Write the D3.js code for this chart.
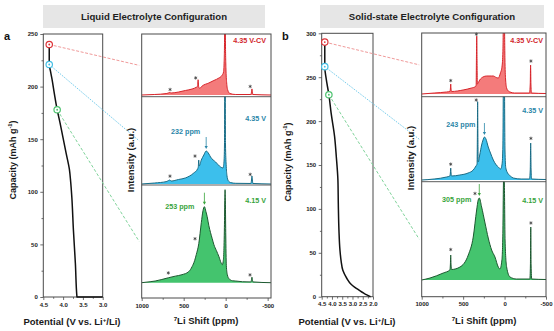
<!DOCTYPE html>
<html>
<head>
<meta charset="utf-8">
<script src="https://cdn.jsdelivr.net/npm/d3@7"></script>
<style>
  html, body { margin: 0; padding: 0; background: #fff; }
  svg { display: block; font-family: "Liberation Sans", Arial, sans-serif; }
</style>
</head>
<body>
<svg id="fig" width="554" height="331"></svg>
<script>
// ---------- charge curves: [potential (V), capacity (mAh/g)] ----------
const liquidChargeCurve = [
  [3.0, 0], [3.65, 0], [3.69, 32], [3.74, 64], [3.78, 95], [3.81, 110], [3.84, 121],
  [3.92, 136], [4.0, 151], [4.08, 166], [4.15, 178], [4.22, 193], [4.28, 207],
  [4.32, 215], [4.35, 221], [4.35, 240]
];
const solidChargeCurve = [
  [2.12, 0], [2.3, 2], [2.45, 4], [2.68, 7.5], [2.9, 11], [3.08, 14.5], [3.28, 21],
  [3.47, 30], [3.55, 40], [3.61, 53], [3.66, 76], [3.69, 105], [3.71, 133], [3.79, 160],
  [3.87, 182], [4.04, 209], [4.15, 230], [4.28, 248], [4.35, 262], [4.35, 290]
];

// sampling points on each curve (4.35 V-CV, 4.35 V, 4.15 V)
const liquidMarkers = [[4.35, 240], [4.35, 221], [4.15, 178]];
const solidMarkers  = [[4.35, 290], [4.35, 262], [4.15, 230]];

// axis ticks
const liquidPotentialTicks = [4.5, 4.0, 3.5, 3.0];
const liquidPotentialMinor = [4.25, 3.75, 3.25];
const liquidCapacityTicks = [0, 50, 100, 150, 200, 250];
const liquidCapacityMinor = [25, 75, 125, 175, 225];
const solidPotentialTicks = [4.5, 4.0, 3.5, 3.0, 2.5, 2.0];
const solidPotentialMinor = [4.25, 3.75, 3.25, 2.75, 2.25];
const solidCapacityTicks = [0, 50, 100, 150, 200, 250, 300];
const solidCapacityMinor = [25, 75, 125, 175, 225, 275];
const shiftTicks = [1000, 500, 0, -500];
const shiftMinor = [750, 250, -250];

// ---------- 7Li NMR spectra: [shift (ppm), intensity (a.u., 100 = trace height)] ----------
const liquidCV = [
  [1000, 0], [850, 0.8], [700, 2.5], [665, 4], [650, 3.3], [560, 4.9], [480, 7.4], [400, 9.8],
  [345, 13], [334, 14], [328, 25], [322, 14], [310, 11], [280, 14.8], [200, 19.7], [140, 23.8],
  [80, 27.9], [45, 32], [25, 37.7], [18, 55], [13, 95], [8, 220], [3, 95], [-3, 45], [-12, 20],
  [-25, 8], [-50, 2.5], [-120, 0.8], [-300, 0.8], [-308, 5], [-313, 10], [-318, 5], [-325, 0.8], [-540, 0]
];
const liquid435 = [
  [1000, 0], [850, 1.1], [700, 2.9], [665, 4.6], [650, 3.4], [560, 5.2], [480, 6.9], [380, 12.6],
  [335, 17.2], [326, 19.5], [321, 27.5], [316, 20.6], [290, 27.5], [260, 33.2], [232, 37.8],
  [200, 34.4], [180, 30.9], [120, 25.2], [60, 19.5], [32, 18.3], [20, 25.2], [14, 45.8], [8, 229],
  [2, 45.8], [-6, 22], [-15, 10], [-30, 4], [-60, 1.6], [-120, 0.8], [-300, 0.6], [-308, 4.6],
  [-313, 9.2], [-318, 4.6], [-325, 0.6], [-540, 0]
];
const liquid415 = [
  [1000, 0], [900, 1], [840, 1.7], [680, 5.1], [600, 6.7], [520, 8.2], [440, 11.3], [400, 16.4],
  [370, 22.5], [350, 28.7], [320, 40], [290, 61.4], [270, 73.7], [253, 77.8], [235, 72.7],
  [220, 67.6], [200, 58.3], [180, 51.2], [160, 45], [140, 38.9], [110, 32.8], [80, 26.6],
  [55, 20.5], [40, 18.4], [30, 21.5], [22, 30.7], [15, 56.3], [10, 87], [7, 95.2], [4, 87],
  [-1, 51.2], [-8, 17.4], [-20, 8.2], [-40, 4.1], [-80, 2], [-120, 1.7], [-200, 1], [-300, 0.8],
  [-308, 3.1], [-313, 5.6], [-318, 3.1], [-325, 0.8], [-540, 0]
];
const solidCV = [
  [1000, 0], [850, 1.6], [700, 3.3], [660, 4.1], [654, 8], [650, 16.4], [646, 8], [640, 4.1],
  [500, 6.6], [400, 9.8], [350, 12.3], [343, 14.8], [339, 65], [336, 95], [333, 65], [328, 16.4],
  [300, 23], [260, 27.9], [216, 29.5], [160, 29.5], [136, 29.5], [100, 27], [76, 26.2], [50, 34.4],
  [30, 45.9], [20, 70], [14, 150], [8, 330], [2, 150], [-4, 60], [-12, 24.6], [-25, 9.8],
  [-45, 4.9], [-65, 3.3], [-120, 1.6], [-300, 1.6], [-310, 16.4], [-314, 47.5], [-318, 16.4],
  [-325, 1.6], [-500, 0.8]
];
const solid435 = [
  [1000, 0], [850, 1.2], [700, 3.6], [660, 4.8], [654, 8.4], [650, 14.4], [646, 8.4], [640, 4.8],
  [540, 6], [440, 8.4], [378, 12], [345, 16.8], [332, 19.2], [328, 54], [325, 94], [322, 54],
  [318, 21.6], [300, 30], [277, 42], [260, 48], [243, 51.6], [225, 49.2], [197, 39.6], [170, 32.4],
  [136, 24], [100, 18], [76, 15.6], [47, 13.2], [30, 19.2], [20, 42], [14, 144], [8, 264],
  [2, 144], [-5, 36], [-15, 14.4], [-37, 8.4], [-70, 4.8], [-105, 2.4], [-200, 1.2], [-300, 1.2],
  [-310, 12], [-315, 44.4], [-320, 12], [-327, 1.2], [-500, 0.6]
];
const solid415 = [
  [1000, 0], [900, 2], [740, 7.1], [660, 10.2], [654, 15.3], [650, 25.4], [646, 15.3], [640, 10.7],
  [538, 13.2], [438, 25.4], [378, 43.7], [337, 71.2], [318, 81.4], [305, 83.4], [277, 74.3],
  [236, 58], [197, 42.7], [156, 30.5], [116, 23.4], [76, 13.2], [56, 11.2], [32, 20.3], [20, 50.9],
  [14, 96.6], [8, 110], [2, 96.6], [-6, 40.7], [-25, 13.2], [-65, 3.1], [-145, 1], [-305, 1],
  [-312, 15.3], [-316, 53.9], [-320, 15.3], [-328, 1], [-500, 0.5]
];

// spinning sidebands marked with asterisks: [shift (ppm), intensity (a.u.)]
const liquidCVStars  = [[662, 9], [357, 28], [-292, 14]];
const liquid435Stars = [[663, 9], [365, 32], [-292, 11]];
const liquid415Stars = [[683, 10], [365, 45], [-290, 8]];
const solidCVStars   = [[650, 22], [340, 98], [-318, 54]];
const solid435Stars  = [[650, 19], [342, 96], [-318, 50]];
const solid415Stars  = [[650, 31], [357, 88], [-318, 58]];

// labelled peak maxima (ppm) on the 4.35 V and 4.15 V traces
const liquidPeaks = [232, 253];
const solidPeaks  = [243, 305];

const rowLabels = ['4.35 V-CV', '4.35 V', '4.15 V'];

// ---------- styling & layout ----------
const rowColors = [
  { fill: '#f47b7b', stroke: '#d6252b', text: '#d2262c', link: '#f09a9a', ring: '#dd3338' },
  { fill: '#3cbfec', stroke: '#1a6b84', text: '#2a86a8', link: '#78cdec', ring: '#45bfe4' },
  { fill: '#44c46e', stroke: '#1d5830', text: '#38a43b', link: '#7fd39a', ring: '#4cc26e' }
];
const linkDash = ['3,1.6', '1.6,1.2', '3,2'];

const panels = [
  {
    letter: 'a', header: 'Liquid Electrolyte Configuration',
    curve: liquidChargeCurve, markers: liquidMarkers,
    potTicks: liquidPotentialTicks, potMinor: liquidPotentialMinor, potDomain: [4.5, 3.0],
    capTicks: liquidCapacityTicks, capMinor: liquidCapacityMinor, capDomain: [0, 250],
    spectra: [liquidCV, liquid435, liquid415],
    stars: [liquidCVStars, liquid435Stars, liquid415Stars],
    peaks: liquidPeaks, shiftDomain: [1000, -540],
    box: { x: 43, y: 5, w: 222, h: 23 }, letterPos: [4, 40],
    cap: { x0: 43.3, x1: 102.7, y0: 34, y1: 297 },
    nmr: { x0: 141.7, x1: 271, y0: 34, y1: 298 },
    rows: [ { top: 34, bottom: 96.7, base: 95 }, { top: 96.7, bottom: 185, base: 184 }, { top: 185, bottom: 298, base: 282.7 } ],
    capTitle: [13, 160], potTitle: [72, 325], intTitle: [130, 160], ppmTitle: [206, 324],
    labelRight: 266, labelDy: [6, 21.3, 15],
    peakLabel: [ { dx: -6, dy: -6 }, { dx: -10, dy: 13.7 } ]
  },
  {
    letter: 'b', header: 'Solid-state Electrolyte Configuration',
    curve: solidChargeCurve, markers: solidMarkers,
    potTicks: solidPotentialTicks, potMinor: solidPotentialMinor, potDomain: [4.5, 2.0],
    capTicks: solidCapacityTicks, capMinor: solidCapacityMinor, capDomain: [0, 300],
    spectra: [solidCV, solid435, solid415],
    stars: [solidCVStars, solid435Stars, solid415Stars],
    peaks: solidPeaks, shiftDomain: [1000, -500],
    box: { x: 320, y: 5, w: 224, h: 23 }, letterPos: [282, 40],
    cap: { x0: 321.7, x1: 373, y0: 33.3, y1: 296.7 },
    nmr: { x0: 421.7, x1: 546, y0: 33, y1: 296.7 },
    rows: [ { top: 33, bottom: 96.7, base: 94 }, { top: 96.7, bottom: 181.7, base: 180 }, { top: 181.7, bottom: 296.7, base: 280 } ],
    capTitle: [288, 162], potTitle: [347, 325], intTitle: [410, 158], ppmTitle: [484, 324],
    labelRight: 543, labelDy: [7.7, 13.3, 19],
    peakLabel: [ { dx: -9, dy: 1.6 }, { dx: -8, dy: 15.7 } ]
  }
];

const FONT = '"Liberation Sans", Arial, sans-serif';
const AXIS_COLOR = '#4a4a4a';
const svg = d3.select('#fig');
const defs = svg.append('defs');

function styleAxis(g, size) {
  g.attr('font-family', FONT).attr('font-size', size).attr('font-weight', 'bold');
  g.select('.domain').remove();
  g.selectAll('.tick line').attr('stroke', AXIS_COLOR).attr('stroke-width', 0.8);
  g.selectAll('.tick text').attr('fill', '#222');
}

function richText(sel, parts) {
  parts.forEach(([t, sup]) => {
    const ts = sel.append('tspan').text(t);
    if (sup) ts.attr('font-size', '0.65em').attr('baseline-shift', 'super');
  });
}

function interp(data, ppm) {
  for (let i = 0; i < data.length - 1; i++) {
    const [a, va] = data[i], [b, vb] = data[i + 1];
    if (ppm <= a && ppm >= b) return va + (vb - va) * (a - ppm) / (a - b);
  }
  return 0;
}

function asterisk(g, cx, cy) {
  const r = 1.7;
  const p = d3.path();
  [90, 30, -30].forEach(deg => {
    const a = deg * Math.PI / 180;
    p.moveTo(cx - r * Math.cos(a), cy - r * Math.sin(a));
    p.lineTo(cx + r * Math.cos(a), cy + r * Math.sin(a));
  });
  g.append('path').attr('d', p.toString()).attr('stroke', '#333').attr('stroke-width', 0.7).attr('fill', 'none');
}

panels.forEach((P) => {
  const root = svg.append('g');

  // header box
  root.append('rect').attr('x', P.box.x).attr('y', P.box.y).attr('width', P.box.w).attr('height', P.box.h)
    .attr('fill', '#e6e6e6');
  root.append('text').attr('x', P.box.x + P.box.w / 2).attr('y', P.box.y + P.box.h / 2 + 3.4)
    .attr('text-anchor', 'middle').attr('font-size', 9.6).attr('font-weight', 'bold').attr('fill', '#1e1e1e')
    .text(P.header);
  root.append('text').attr('x', P.letterPos[0]).attr('y', P.letterPos[1])
    .attr('font-size', 11).attr('font-weight', 'bold').attr('fill', '#111').text(P.letter);

  // ---- capacity vs potential ----
  const xV = d3.scaleLinear().domain(P.potDomain).range([P.cap.x0, P.cap.x1]);
  const yC = d3.scaleLinear().domain(P.capDomain).range([P.cap.y1, P.cap.y0]);

  const gxMinor = root.append('g').attr('transform', `translate(0,${P.cap.y1})`)
    .call(d3.axisBottom(xV).tickValues(P.potMinor).tickSize(1.8).tickFormat(''));
  styleAxis(gxMinor, 6);
  const gx = root.append('g').attr('transform', `translate(0,${P.cap.y1})`)
    .call(d3.axisBottom(xV).tickValues(P.potTicks).tickSize(3).tickPadding(2.5).tickFormat(d3.format('.1f')));
  styleAxis(gx, 6);
  const gyMinor = root.append('g').attr('transform', `translate(${P.cap.x0},0)`)
    .call(d3.axisLeft(yC).tickValues(P.capMinor).tickSize(1.8).tickFormat(''));
  styleAxis(gyMinor, 6);
  const gy = root.append('g').attr('transform', `translate(${P.cap.x0},0)`)
    .call(d3.axisLeft(yC).tickValues(P.capTicks).tickSize(3).tickPadding(2.5));
  styleAxis(gy, 6);

  root.append('rect').attr('x', P.cap.x0).attr('y', P.cap.y0)
    .attr('width', P.cap.x1 - P.cap.x0).attr('height', P.cap.y1 - P.cap.y0)
    .attr('fill', 'none').attr('stroke', AXIS_COLOR).attr('stroke-width', 1);

  root.append('path').datum(P.curve)
    .attr('d', d3.line().x(d => xV(d[0])).y(d => yC(d[1])).curve(d3.curveMonotoneY))
    .attr('fill', 'none').attr('stroke', '#111').attr('stroke-width', 1.5).attr('stroke-linejoin', 'round');

  // ---- NMR stack ----
  const xS = d3.scaleLinear().domain(P.shiftDomain).range([P.nmr.x0, P.nmr.x1]);

  // connecting lines from sampling points to their spectra
  P.markers.forEach((m, i) => {
    const row = P.rows[i];
    const ymid = (row.top + Math.min(row.bottom, P.nmr.y1)) / 2;
    root.append('line')
      .attr('x1', xV(m[0])).attr('y1', yC(m[1]))
      .attr('x2', P.nmr.x0 - 2.5).attr('y2', ymid)
      .attr('stroke', rowColors[i].link).attr('stroke-width', 1).attr('stroke-dasharray', linkDash[i]);
  });
  P.markers.forEach((m, i) => {
    const c = rowColors[i];
    root.append('circle').attr('cx', xV(m[0])).attr('cy', yC(m[1])).attr('r', 3.2)
      .attr('fill', '#fff').attr('stroke', c.ring).attr('stroke-width', 1.2);
    root.append('circle').attr('cx', xV(m[0])).attr('cy', yC(m[1])).attr('r', 0.9).attr('fill', c.ring);
  });

  P.spectra.forEach((data, i) => {
    const row = P.rows[i];
    const c = rowColors[i];
    const yI = d3.scaleLinear().domain([0, 100]).range([row.base, row.top]);
    const clipId = `clip-${P.letter}-${i}`;
    defs.append('clipPath').attr('id', clipId).append('rect')
      .attr('x', P.nmr.x0).attr('y', row.top).attr('width', P.nmr.x1 - P.nmr.x0).attr('height', row.bottom - row.top);
    const g = root.append('g').attr('clip-path', `url(#${clipId})`);
    g.append('path').datum(data)
      .attr('d', d3.area().x(d => xS(d[0])).y0(yI(0)).y1(d => yI(d[1])).curve(d3.curveMonotoneX))
      .attr('fill', c.fill);
    g.append('path').datum(data)
      .attr('d', d3.line().x(d => xS(d[0])).y(d => yI(d[1])).curve(d3.curveMonotoneX))
      .attr('fill', 'none').attr('stroke', c.stroke).attr('stroke-width', 1).attr('stroke-linejoin', 'round');

    P.stars[i].forEach(s => asterisk(root, xS(s[0]), yI(s[1])));

    root.append('text').attr('x', P.labelRight).attr('y', row.top + P.labelDy[i])
      .attr('text-anchor', 'end').attr('dominant-baseline', 'central')
      .attr('font-size', 7.2).attr('font-weight', 'bold').attr('fill', c.text).text(rowLabels[i]);

    if (i > 0) {
      const ppm = P.peaks[i - 1];
      const px = xS(ppm);
      const py = yI(interp(data, ppm));
      const tip = py - 2, tail = py - 14;
      root.append('line').attr('x1', px).attr('x2', px).attr('y1', tail).attr('y2', tip - 2.5)
        .attr('stroke', c.text).attr('stroke-width', 0.8);
      root.append('path')
        .attr('d', `M${px - 1.6},${tip - 3}L${px + 1.6},${tip - 3}L${px},${tip}Z`)
        .attr('fill', c.text);
      const lp = P.peakLabel[i - 1];
      root.append('text').attr('x', px + lp.dx).attr('y', tail + lp.dy)
        .attr('text-anchor', 'end').attr('dominant-baseline', 'central')
        .attr('font-size', 7.2).attr('font-weight', 'bold').attr('fill', c.text).text(`${ppm} ppm`);
    }
  });

  // row separators and frame
  P.rows.slice(1).forEach(row => {
    root.append('line').attr('x1', P.nmr.x0).attr('x2', P.nmr.x1).attr('y1', row.top).attr('y2', row.top)
      .attr('stroke', AXIS_COLOR).attr('stroke-width', 0.9);
  });
  root.append('rect').attr('x', P.nmr.x0).attr('y', P.nmr.y0)
    .attr('width', P.nmr.x1 - P.nmr.x0).attr('height', P.nmr.y1 - P.nmr.y0)
    .attr('fill', 'none').attr('stroke', AXIS_COLOR).attr('stroke-width', 1);

  const gsMinor = root.append('g').attr('transform', `translate(0,${P.nmr.y1})`)
    .call(d3.axisBottom(xS).tickValues(shiftMinor).tickSize(1.8).tickFormat(''));
  styleAxis(gsMinor, 6);
  const gs = root.append('g').attr('transform', `translate(0,${P.nmr.y1})`)
    .call(d3.axisBottom(xS).tickValues(shiftTicks).tickSize(3).tickPadding(2.5).tickFormat(d => String(d)));
  styleAxis(gs, 6);

  // axis titles
  const capT = root.append('text')
    .attr('transform', `translate(${P.capTitle[0]},${P.capTitle[1]}) rotate(-90)`)
    .attr('text-anchor', 'middle').attr('dominant-baseline', 'central')
    .attr('font-size', 9).attr('font-weight', 'bold').attr('fill', '#1a1a1a');
  richText(capT, [['Capacity (mAh g'], ['-1', true], [')']]);

  const potT = root.append('text').attr('x', P.potTitle[0]).attr('y', P.potTitle[1])
    .attr('text-anchor', 'middle').attr('font-size', 9.5).attr('font-weight', 'bold').attr('fill', '#1a1a1a');
  richText(potT, [['Potential (V vs. Li'], ['+', true], ['/Li)']]);

  root.append('text')
    .attr('transform', `translate(${P.intTitle[0]},${P.intTitle[1]}) rotate(-90)`)
    .attr('text-anchor', 'middle').attr('dominant-baseline', 'central')
    .attr('font-size', 9.5).attr('font-weight', 'bold').attr('fill', '#1a1a1a').text('Intensity (a.u.)');

  const ppmT = root.append('text').attr('x', P.ppmTitle[0]).attr('y', P.ppmTitle[1])
    .attr('text-anchor', 'middle').attr('font-size', 9.5).attr('font-weight', 'bold').attr('fill', '#1a1a1a');
  richText(ppmT, [['7', true], ['Li Shift (ppm)']]);
});
</script>
</body>
</html>
